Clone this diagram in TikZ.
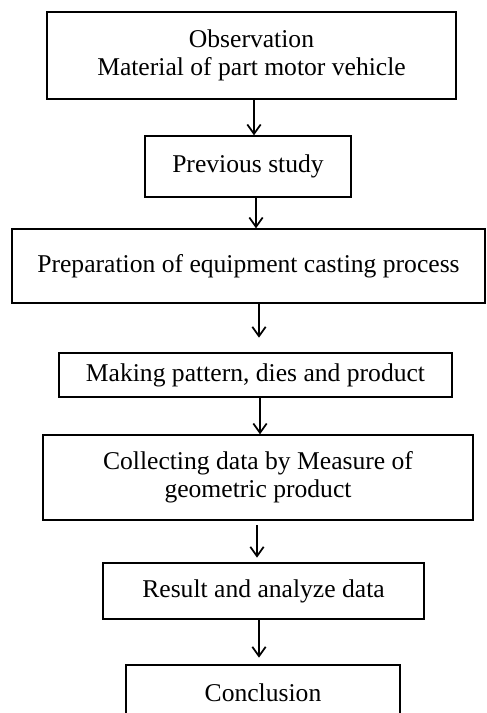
\documentclass[tikz,border=0pt]{standalone}
\usepackage{fontspec}
\setmainfont{Liberation Serif}
\usetikzlibrary{arrows.meta}

\tikzset{
  block/.style={draw, line width=1pt, align=center, inner sep=0pt,
    font=\fontsize{19.2}{21}\selectfont},
  flow/.style={line width=1.3pt, -{Straight Barb[length=7pt,width=10pt,line width=1.3pt]}}
}

\begin{document}
\begin{tikzpicture}[x=0.75pt,y=0.75pt,yscale=-1,xscale=1]
\useasboundingbox (0,0) rectangle (486,713);
\clip (0,0) rectangle (486,713);

% Text Node
\node [block, minimum width=306.75pt, minimum height=65.25pt] (obs) at (251.5,55.5) {Observation\\Material of part motor vehicle};
% Text Node
\node [block, minimum width=154.5pt, minimum height=45.75pt] (prev) at (248,166.5) {Previous study};
% Text Node
\node [block, minimum width=354.75pt, minimum height=55.5pt] (prep) at (248.5,266) {Preparation of equipment casting process};
% Text Node
\node [block, minimum width=294.75pt, minimum height=33pt] (make) at (255.5,375) {Making pattern, dies and product};
% Text Node
\node [block, minimum width=322.5pt, minimum height=63.75pt] (collect) at (258,477.5) {Collecting data by Measure of\\geometric product};
% Text Node
\node [block, minimum width=240.75pt, minimum height=42pt] (result) at (263.5,591) {Result and analyze data};
% Text Node
\node [block, minimum width=205.5pt, minimum height=42pt] (concl) at (263,693) {Conclusion};

%Straight Lines
\foreach \a/\b/\x/\s/\e in {obs/prev/254/0pt/0pt, prev/prep/256/0pt/0pt, prep/make/259/0pt/11pt,
    make/collect/260/0pt/0pt, collect/result/257/3.5pt/3.5pt, result/concl/259/0pt/5pt}
  \draw [flow, shorten <=\s, shorten >=\e] (\a.south -| \x,0) -- (\b.north -| \x,0);

\end{tikzpicture}
\end{document}
